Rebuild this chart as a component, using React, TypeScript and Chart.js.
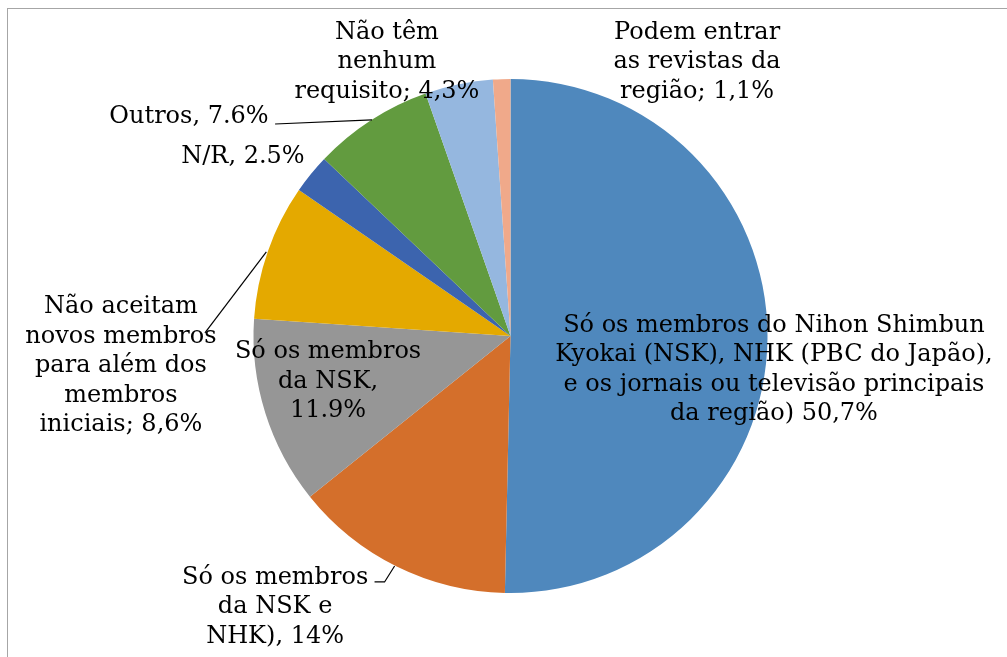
import React, { useEffect, useRef } from "react";
import { Chart, registerables } from "chart.js";

Chart.register(...registerables);

const categories = [
  "Só os membros do Nihon Shimbun Kyokai (NSK), NHK (PBC do Japão), e os jornais ou televisão principais da região)",
  "Só os membros da NSK e NHK)",
  "Só os membros da NSK",
  "Não aceitam novos membros para além dos membros iniciais",
  "N/R",
  "Outros",
  "Não têm nenhum requisito",
  "Podem entrar as revistas da região",
];
const values = [50.7, 14, 11.9, 8.6, 2.5, 7.6, 4.3, 1.1];
const labelLines = [
  ["Só os membros do Nihon Shimbun", "Kyokai (NSK), NHK (PBC do Japão),", "e os jornais ou televisão principais", "da região) 50,7%"],
  ["Só os membros", "da NSK e", "NHK), 14%"],
  ["Só os membros", "da NSK,", "11.9%"],
  ["Não aceitam", "novos membros", "para além dos", "membros", "iniciais; 8,6%"],
  ["N/R, 2.5%"],
  ["Outros, 7.6%"],
  ["Não têm", "nenhum", "requisito; 4,3%"],
  ["Podem entrar", "as revistas da", "região; 1,1%"],
];
const colors = ["#4F88BD", "#D46F2B", "#969696", "#E4A900", "#3C64AE", "#629B3F", "#95B7DF", "#F0A98A"];

// label block centres, as fractions of the pie radius from the pie centre
const labelPos: [number, number][] = [
  [1.025, 0.132],
  [-0.916, 1.054],
  [-0.71, 0.177],
  [-1.516, 0.117],
  [-1.041, -0.696],
  [-1.251, -0.852],
  [-0.481, -1.066],
  [0.726, -1.066],
];
// leader lines, as fractions of the radius from the pie centre
const leaders: Record<number, [number, number][]> = {
  1: [[-0.529, 0.957], [-0.49, 0.957], [-0.451, 0.895]],
  3: [[-1.189, -0.012], [-0.95, -0.327]],
  5: [[-0.916, -0.825], [-0.539, -0.841]],
};

const FONT = '24px "DejaVu Serif"';
const LINE_H = 29.5;

const labelPlugin = {
  id: "pieLabels",
  afterDraw(chart: any) {
    const meta = chart.getDatasetMeta(0);
    const arc = meta.data[0];
    if (!arc) return;
    const { x: cx, y: cy, outerRadius: r } = arc.getProps(["x", "y", "outerRadius"], true);
    const ctx = chart.ctx;
    ctx.save();
    ctx.strokeStyle = "#000";
    ctx.lineWidth = 1.2;
    Object.keys(leaders).forEach((k) => {
      const pts = leaders[+k];
      ctx.beginPath();
      pts.forEach(([fx, fy], i) => {
        const px = cx + fx * r;
        const py = cy + fy * r;
        if (i === 0) ctx.moveTo(px, py);
        else ctx.lineTo(px, py);
      });
      ctx.stroke();
    });
    ctx.font = FONT;
    ctx.fillStyle = "#000";
    ctx.textAlign = "center";
    ctx.textBaseline = "middle";
    labelLines.forEach((lines, i) => {
      const [fx, fy] = labelPos[i];
      const x = cx + fx * r;
      const y0 = cy + fy * r - ((lines.length - 1) * LINE_H) / 2;
      lines.forEach((ln, j) => ctx.fillText(ln, x, y0 + j * LINE_H));
    });
    ctx.restore();
  },
};

export default function App() {
  const ref = useRef<HTMLCanvasElement>(null);
  useEffect(() => {
    document.body.style.margin = "0";
    const chart = new Chart(ref.current!, {
      type: "pie",
      data: {
        labels: categories,
        datasets: [
          {
            data: values,
            backgroundColor: colors,
            borderWidth: 0,
          },
        ],
      },
      options: {
        responsive: false,
        animation: false,
        layout: { padding: { left: 253.5, right: 239.5, top: 79, bottom: 64 } },
        plugins: {
          legend: { display: false },
          tooltip: { enabled: false },
        },
      },
      plugins: [labelPlugin],
    });
    return () => chart.destroy();
  }, []);
  return (
    <div style={{ position: "relative", width: 1007, height: 657, overflow: "hidden", background: "#fff" }}>
      <canvas ref={ref} width={1007} height={657} style={{ position: "absolute", left: 0, top: 0 }} />
      <div
        style={{
          position: "absolute",
          left: 7,
          top: 8,
          width: 1100,
          height: 800,
          border: "1.5px solid #A6A6A6",
          pointerEvents: "none",
        }}
      />
    </div>
  );
}
